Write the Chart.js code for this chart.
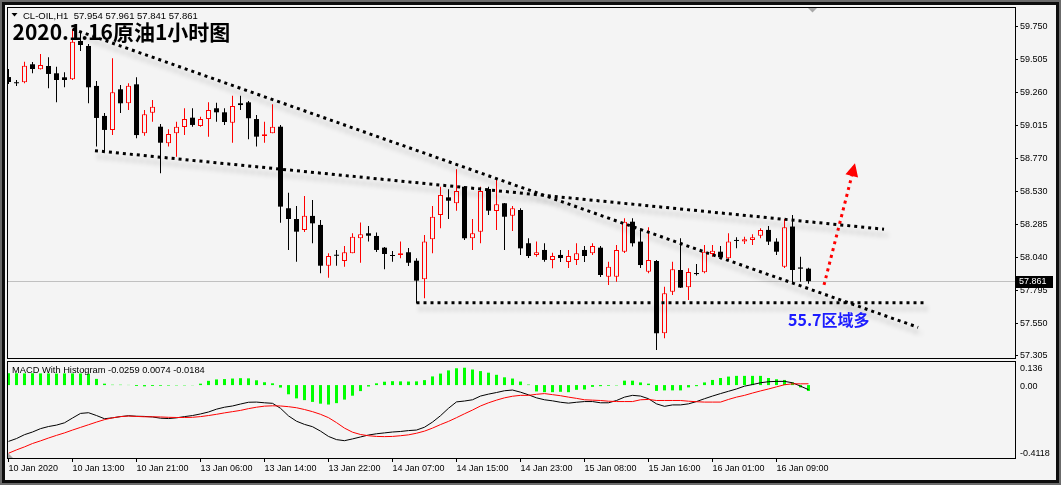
<!DOCTYPE html>
<html><head><meta charset="utf-8"><title>CL-OIL H1</title>
<script src="https://cdn.jsdelivr.net/npm/chart.js@4.4.1/dist/chart.umd.min.js"></script>
<style>
html,body{margin:0;padding:0;width:1061px;height:485px;overflow:hidden;background:#f4f4f4;}
#stage{position:absolute;left:0;top:0;width:1061px;height:485px;background:#f4f4f4;}
#p1{position:absolute;left:0;top:0;width:1061px;height:360px;}
#p2{position:absolute;left:0;top:359px;width:1061px;height:126px;}
#f1{position:absolute;left:0;top:0;width:1061px;height:485px;box-sizing:border-box;border:2px solid #6b6b6b;pointer-events:none;}
#f2{position:absolute;left:0;top:0;right:0;bottom:0;border:3px solid #0d0d0d;}
</style></head><body>
<div id="stage">
 <div id="p1"><canvas id="main"></canvas></div>
 <div id="p2"><canvas id="macd"></canvas></div>
 <div id="f1"><div id="f2"></div></div>
</div>
<script>
// ---------- data ----------
const symbol = 'CL-OIL,H1';
const titleText = '2020.1.16原油1小时图';
const timeLabels = ['10 Jan 2020','10 Jan 13:00','10 Jan 21:00','13 Jan 06:00','13 Jan 14:00','13 Jan 22:00','14 Jan 07:00','14 Jan 15:00','14 Jan 23:00','15 Jan 08:00','15 Jan 16:00','16 Jan 01:00','16 Jan 09:00'];
const timeTickBars = [0,8,16,24,32,40,48,56,64,72,80,88,96];
const priceTickLabels = ['59.750','59.505','59.260','59.015','58.770','58.530','58.285','58.040','57.795','57.550','57.305'];
const macdTickLabels = ['0.136','0.00','-0.4118'];
const macdHeader = ['-0.0259','0.0074','-0.0184'];

const opens = [59.378,59.334,59.339,59.473,59.436,59.460,59.406,59.376,59.361,59.646,
59.609,59.312,59.089,58.985,59.287,59.183,59.324,58.960,59.113,59.009,
58.886,58.960,59.007,59.076,59.014,59.066,59.146,59.116,59.039,59.183,
59.190,59.066,58.940,58.960,59.009,58.403,58.323,58.242,58.346,58.279,
57.976,58.056,58.011,58.068,58.180,58.217,58.197,58.110,58.053,58.056,
58.076,58.013,57.875,58.172,58.353,58.484,58.440,58.563,58.180,58.229,
58.546,58.383,58.440,58.348,58.390,58.143,58.056,58.093,58.019,58.056,
58.004,58.019,58.093,58.068,58.110,57.894,57.894,58.080,58.303,58.155,
57.932,58.011,57.474,57.783,57.944,57.815,57.922,57.927,58.063,58.080,
58.031,58.162,58.155,58.167,58.199,58.242,58.155,57.969,58.267,57.963,57.954];
const highs = [59.438,59.356,59.492,59.490,59.549,59.525,59.455,59.413,59.735,59.705,
59.624,59.349,59.111,59.517,59.319,59.332,59.376,59.133,59.208,59.029,
58.990,59.046,59.146,59.146,59.083,59.190,59.187,59.146,59.239,59.239,
59.200,59.096,59.046,59.176,59.022,58.519,58.420,58.494,58.464,58.316,
58.068,58.093,58.123,58.217,58.298,58.271,58.222,58.115,58.085,58.155,
58.108,58.031,58.204,58.420,58.563,58.544,58.693,58.568,58.323,58.563,
58.563,58.618,58.442,58.420,58.403,58.180,58.155,58.143,58.073,58.093,
58.093,58.143,58.123,58.143,58.123,58.006,58.130,58.328,58.328,58.254,
58.262,58.019,57.820,58.006,58.180,57.957,57.989,58.130,58.130,58.123,
58.217,58.187,58.192,58.210,58.254,58.271,58.180,58.323,58.353,58.043,57.961];
const lows = [59.326,59.311,59.332,59.406,59.434,59.294,59.190,59.302,59.356,59.572,
59.183,58.861,58.823,58.947,59.111,59.133,58.923,58.942,59.046,58.663,
58.861,58.786,58.947,59.009,59.009,58.935,59.046,59.022,58.890,59.133,
58.916,58.861,58.890,58.960,58.296,58.093,58.006,58.227,58.143,57.920,
57.887,57.976,57.969,58.068,57.998,58.155,58.078,57.949,58.006,58.031,
57.974,57.697,57.734,58.068,58.254,58.323,58.385,58.167,58.093,58.143,
58.353,58.242,58.093,58.234,58.056,58.033,58.043,58.006,57.957,58.004,
57.959,57.981,58.004,58.056,57.892,57.833,57.857,58.071,58.118,57.959,
57.920,57.350,57.437,57.758,57.811,57.721,57.903,57.920,58.043,58.024,
58.019,58.105,58.138,58.130,58.180,58.130,58.056,57.959,57.850,57.857,57.841];
const closes = [59.341,59.332,59.462,59.438,59.468,59.401,59.356,59.356,59.641,59.616,
59.302,59.074,58.985,59.265,59.183,59.314,58.947,59.101,59.158,58.890,
58.955,59.009,59.066,59.022,59.066,59.133,59.116,59.044,59.163,59.170,
59.072,58.935,58.953,59.009,58.415,58.323,58.229,58.348,58.291,57.976,
58.048,58.050,58.076,58.192,58.210,58.199,58.093,58.063,58.048,58.068,
57.998,57.865,58.155,58.340,58.502,58.459,58.531,58.180,58.217,58.531,
58.385,58.432,58.340,58.403,58.105,58.048,58.076,58.019,58.048,58.033,
58.048,58.068,58.048,58.123,57.907,57.969,58.093,58.303,58.143,57.981,
58.019,57.474,57.771,57.949,57.813,57.929,57.914,58.080,58.088,58.039,
58.155,58.160,58.172,58.187,58.242,58.155,58.080,58.262,57.944,57.954,57.861];

const macdMain = [-0.318,-0.302,-0.280,-0.265,-0.246,-0.234,-0.226,-0.213,-0.186,-0.160,
-0.156,-0.172,-0.190,-0.185,-0.178,-0.173,-0.176,-0.177,-0.180,-0.187,
-0.189,-0.185,-0.178,-0.172,-0.163,-0.152,-0.136,-0.125,-0.118,-0.107,
-0.097,-0.096,-0.100,-0.103,-0.131,-0.174,-0.204,-0.222,-0.235,-0.260,
-0.290,-0.308,-0.314,-0.304,-0.293,-0.282,-0.275,-0.270,-0.265,-0.262,
-0.257,-0.254,-0.238,-0.209,-0.173,-0.131,-0.095,-0.090,-0.083,-0.062,
-0.051,-0.042,-0.032,-0.028,-0.040,-0.055,-0.072,-0.083,-0.089,-0.097,
-0.102,-0.097,-0.093,-0.093,-0.100,-0.100,-0.087,-0.068,-0.058,-0.062,
-0.077,-0.106,-0.120,-0.112,-0.112,-0.106,-0.093,-0.077,-0.062,-0.048,
-0.035,-0.022,-0.006,0.003,0.013,0.019,0.021,0.021,0.013,-0.006,-0.0259];
const macdSignal = [-0.385,-0.366,-0.349,-0.330,-0.315,-0.299,-0.284,-0.270,-0.254,-0.239,
-0.224,-0.209,-0.195,-0.185,-0.178,-0.175,-0.177,-0.179,-0.179,-0.180,
-0.182,-0.183,-0.183,-0.182,-0.178,-0.172,-0.165,-0.157,-0.150,-0.143,
-0.133,-0.125,-0.119,-0.117,-0.118,-0.122,-0.128,-0.138,-0.150,-0.165,
-0.184,-0.212,-0.243,-0.266,-0.279,-0.286,-0.290,-0.291,-0.290,-0.286,
-0.281,-0.272,-0.260,-0.243,-0.223,-0.205,-0.184,-0.162,-0.141,-0.118,
-0.100,-0.085,-0.072,-0.063,-0.058,-0.058,-0.052,-0.048,-0.054,-0.060,
-0.068,-0.075,-0.083,-0.085,-0.087,-0.091,-0.093,-0.093,-0.093,-0.083,
-0.081,-0.087,-0.087,-0.087,-0.087,-0.091,-0.094,-0.096,-0.096,-0.096,
-0.081,-0.068,-0.058,-0.045,-0.033,-0.022,-0.010,0.002,0.007,0.007,0.0074];
const macdHist = [0.067,0.067,0.066,0.067,0.066,0.066,0.065,0.066,0.066,0.066,
0.064,0.035,0.008,0.002,0.002,0.001,-0.005,-0.007,-0.005,-0.004,
-0.003,-0.002,-0.002,-0.001,0.008,0.024,0.032,0.034,0.037,0.039,
0.038,0.027,0.016,0.010,-0.014,-0.052,-0.075,-0.085,-0.095,-0.105,
-0.110,-0.102,-0.082,-0.060,-0.034,-0.008,0.010,0.019,0.022,0.021,
0.020,0.021,0.028,0.049,0.065,0.083,0.095,0.098,0.088,0.079,
0.070,0.058,0.044,0.037,0.020,0.003,-0.036,-0.040,-0.040,-0.038,
-0.040,-0.027,-0.025,-0.010,-0.006,-0.004,-0.002,0.025,0.025,0.015,
0.008,-0.033,-0.030,-0.030,-0.030,-0.013,-0.006,0.015,0.029,0.040,
0.048,0.052,0.052,0.052,0.052,0.040,0.033,0.029,0.015,-0.013,-0.033];

// drawn objects, in (bar index, price)
const trendSteep = [[8, 59.735], [113.7, 57.518]];
const trendUpper = [[10.81, 58.831], [109.44, 58.247]];
const supportLine = [[51, 57.700], [114.7, 57.700]];
const arrowUp = [[101.94, 57.833], [105.81, 58.737]];
const zoneNote = {text: '55.7区域多', bar: 97.44, price: 57.528};

// ---------- styling ----------
const RED = '#ff0000', BG = '#f4f4f4', GREEN = '#00ff00', BLUE = '#1c1cff';
const AXFONT = {family: 'Liberation Sans', size: 9};
const bars = opens.map((o, i) => i);
const isUp = bars.map(i => closes[i] > opens[i]);

function xAxis(show) {
  return {
    type: 'linear', min: -0.1875, max: 125.8125, offset: false, display: show,
    grid: {display: true, drawOnChartArea: false, drawTicks: true, tickLength: 4, color: '#000', offset: false},
    border: {display: false},
    afterBuildTicks(s) { s.ticks = timeTickBars.map(v => ({value: v})); },
    ticks: {autoSkip: false, maxRotation: 0, minRotation: 0, align: 'start', padding: 1, color: '#000', font: AXFONT,
      callback: (v, i) => timeLabels[i]},
    afterFit(s) { s.height = show ? 27 : 0; s.paddingLeft = 0; s.paddingRight = 0; }
  };
}
const common = {
  responsive: true, maintainAspectRatio: false, animation: false, devicePixelRatio: 1, events: [],
  plugins: {legend: {display: false}, tooltip: {enabled: false}, title: {display: false}}
};
function lineDs(pts, color, shadow) {
  return {type: 'line', data: pts.map(p => ({x: p[0], y: p[1]})), borderColor: color, borderWidth: 3,
    borderDash: [3, 4], borderCapStyle: 'butt', pointRadius: 0, fill: false, tension: 0, order: 0, shadow: shadow};
}
function frame(ctx, a) {
  ctx.save(); ctx.strokeStyle = '#000'; ctx.lineWidth = 1;
  ctx.strokeRect(a.left + 0.5, a.top + 0.5, a.right - a.left, a.bottom - a.top);
  ctx.restore();
}

const mainDecor = {
  id: 'mainDecor',
  beforeDatasetsDraw(chart) {
    const {ctx, chartArea: a, scales: {y}} = chart;
    const py = Math.round(y.getPixelForValue(closes[closes.length - 1])) + 0.5;
    ctx.save(); ctx.strokeStyle = '#c0c0c0'; ctx.lineWidth = 1;
    ctx.beginPath(); ctx.moveTo(a.left, py); ctx.lineTo(a.right, py); ctx.stroke(); ctx.restore();
  },
  beforeDatasetDraw(chart, args) {
    const ds = chart.data.datasets[args.index];
    if (ds.shadow) { const c = chart.ctx; c.save(); c.shadowColor = 'rgba(0,0,0,0.30)'; c.shadowBlur = 5; c.shadowOffsetX = 3; c.shadowOffsetY = 6; }
  },
  afterDatasetDraw(chart, args) {
    if (chart.data.datasets[args.index].shadow) chart.ctx.restore();
  },
  afterDraw(chart) {
    const {ctx, chartArea: a, scales: {x, y}} = chart;
    frame(ctx, a);
    ctx.save();
    // arrow head
    const x0 = x.getPixelForValue(arrowUp[0][0]), y0 = y.getPixelForValue(arrowUp[0][1]);
    const x1 = x.getPixelForValue(arrowUp[1][0]), y1 = y.getPixelForValue(arrowUp[1][1]);
    ctx.save(); ctx.translate(x1, y1); ctx.rotate(Math.atan2(y1 - y0, x1 - x0));
    ctx.beginPath(); ctx.moveTo(0, 0); ctx.lineTo(-13, -6.5); ctx.lineTo(-13, 6.5); ctx.closePath();
    ctx.fillStyle = RED; ctx.fill(); ctx.restore();
    // zone note
    ctx.fillStyle = BLUE; ctx.font = 'bold 16px "Noto Sans CJK SC"'; ctx.textBaseline = 'alphabetic'; ctx.textAlign = 'left';
    ctx.fillText(zoneNote.text, x.getPixelForValue(zoneNote.bar), y.getPixelForValue(zoneNote.price));
    // header
    const n = closes.length - 1;
    ctx.fillStyle = '#000';
    ctx.beginPath(); ctx.moveTo(a.left + 4.5, a.top + 6); ctx.lineTo(a.left + 10.5, a.top + 6); ctx.lineTo(a.left + 7.5, a.top + 9.5); ctx.closePath(); ctx.fill();
    ctx.font = '9.5px "Liberation Sans"';
    ctx.fillText(symbol + '  ' + [opens[n], highs[n], lows[n], closes[n]].map(v => v.toFixed(3)).join(' '), a.left + 16, a.top + 11.5);
    // title
    ctx.font = 'bold 21px "Noto Sans CJK SC"';
    ctx.fillText(titleText, a.left + 5.5, a.top + 33);
    // shift marker
    ctx.fillStyle = '#a8a8a8';
    ctx.beginPath(); ctx.moveTo(808, a.top + 1); ctx.lineTo(817, a.top + 1); ctx.lineTo(812.5, a.top + 5.5); ctx.closePath(); ctx.fill();
    // current price box
    const py = Math.round(y.getPixelForValue(closes[n]));
    ctx.fillStyle = '#000'; ctx.fillRect(a.right + 1, py - 5, 37, 12);
    ctx.fillStyle = '#fff'; ctx.font = '9px "Liberation Sans"'; ctx.textBaseline = 'middle';
    ctx.fillText(closes[n].toFixed(3), a.right + 4, py + 1);
    ctx.restore();
  }
};

new Chart(document.getElementById('main'), {
  type: 'bar',
  data: {datasets: [
    {type: 'bar', data: bars.map(i => ({x: i, y: [lows[i], highs[i]]})), backgroundColor: isUp.map(u => u ? RED : '#000'),
      borderWidth: 0, barThickness: 1, grouped: false, inflateAmount: 0, order: 3},
    {type: 'bar', data: bars.map(i => ({x: i, y: [Math.min(opens[i], closes[i]), Math.max(opens[i], closes[i])]})),
      backgroundColor: isUp.map(u => u ? BG : '#000'), borderColor: isUp.map(u => u ? RED : '#000'),
      borderWidth: isUp.map(u => u ? 1 : 0), borderSkipped: false, barThickness: 5, minBarLength: 1,
      grouped: false, inflateAmount: 0, order: 2},
    lineDs(trendSteep, '#000', true),
    lineDs(trendUpper, '#000', true),
    lineDs(supportLine, '#000', true),
    lineDs(arrowUp, RED, false)
  ]},
  options: Object.assign({}, common, {
    layout: {autoPadding: false, padding: {left: 7, right: 0, top: 7, bottom: 2}},
    scales: {
      x: xAxis(false),
      y: {type: 'linear', position: 'right', min: 57.2901, max: 59.8986,
        grid: {drawOnChartArea: false, drawTicks: true, tickLength: 3, color: '#000'}, border: {display: false},
        afterBuildTicks(s) { s.ticks = priceTickLabels.map(t => ({value: parseFloat(t)})); },
        ticks: {padding: 2, color: '#000', font: AXFONT, callback: (v, i) => priceTickLabels[i]},
        afterFit(s) { s.width = 46; s.paddingTop = 0; s.paddingBottom = 0; }}
    }
  }),
  plugins: [mainDecor]
});

const macdDecor = {
  id: 'macdDecor',
  afterDraw(chart) {
    const {ctx, chartArea: a, scales: {y}} = chart;
    frame(ctx, a);
    ctx.save();
    ctx.fillStyle = '#000'; ctx.font = '9.3px "Liberation Sans"'; ctx.textBaseline = 'middle'; ctx.textAlign = 'left';
    ctx.fillText('MACD With Histogram ' + macdHeader.join(' '), a.left + 5, a.top + 9);
    ctx.font = '9px "Liberation Sans"';
    y.ticks.forEach((t, i) => {
      let py = y.getPixelForValue(t.value);
      if (i === 0) py += 8; else if (i === y.ticks.length - 1) py -= 4.5; else py += 1;
      ctx.fillText(macdTickLabels[i], a.right + 5, py);
    });
    ctx.fillStyle = '#a8a8a8';
    ctx.beginPath(); ctx.moveTo(a.left + 1, a.bottom - 5); ctx.lineTo(a.left + 1, a.bottom); ctx.lineTo(a.left + 6, a.bottom); ctx.closePath(); ctx.fill();
    ctx.restore();
  }
};

new Chart(document.getElementById('macd'), {
  type: 'bar',
  data: {datasets: [
    {type: 'bar', data: bars.map(i => ({x: i, y: macdHist[i]})), backgroundColor: GREEN, borderWidth: 0,
      barThickness: 3, grouped: false, inflateAmount: 0, order: 2},
    {type: 'line', data: bars.map(i => ({x: i, y: macdMain[i]})), borderColor: '#000', borderWidth: 1, pointRadius: 0, tension: 0, order: 1},
    {type: 'line', data: bars.map(i => ({x: i, y: macdSignal[i]})), borderColor: RED, borderWidth: 1, pointRadius: 0, tension: 0, order: 0}
  ]},
  options: Object.assign({}, common, {
    layout: {autoPadding: false, padding: {left: 7, right: 0, top: 2, bottom: 0}},
    scales: {
      x: xAxis(true),
      y: {type: 'linear', position: 'right', min: -0.4118, max: 0.136, grid: {display: false}, border: {display: false},
        afterBuildTicks(s) { s.ticks = macdTickLabels.map(t => ({value: parseFloat(t)})); },
        ticks: {display: false},
        afterFit(s) { s.width = 46; s.paddingTop = 0; s.paddingBottom = 0; }}
    }
  }),
  plugins: [macdDecor]
});
</script></body></html>
